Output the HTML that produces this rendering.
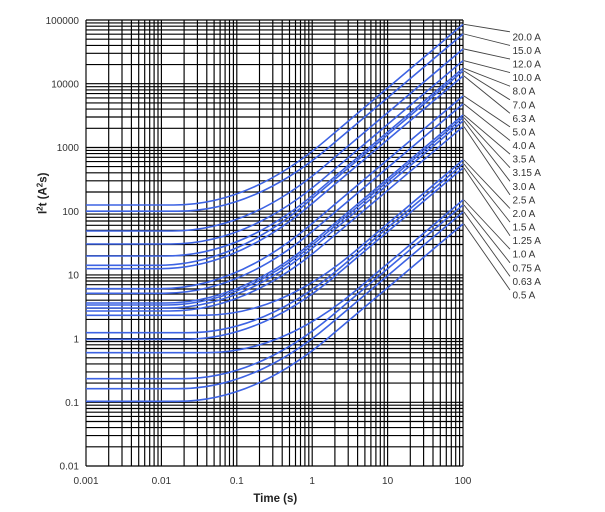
<!DOCTYPE html>
<html><head><meta charset="utf-8"><style>html,body{margin:0;padding:0;background:#fff}svg{display:block}</style></head>
<body>
<svg width="605" height="512" viewBox="0 0 605 512" xmlns="http://www.w3.org/2000/svg" font-family="Liberation Sans, Arial, sans-serif">
<rect width="605" height="512" fill="#fff"/>
<path fill="none" stroke="#000" stroke-width="1.15" d="
M86 20V466M108.7 20V466M122 20V466M131.4 20V466M138.7 20V466M144.7 20V466M149.7 20V466M154.1 20V466M158 20V466
M161.4 20V466M184.1 20V466M197.4 20V466M206.8 20V466M214.1 20V466M220.1 20V466M225.1 20V466M229.5 20V466M233.4 20V466
M236.8 20V466M259.5 20V466M272.8 20V466M282.2 20V466M289.5 20V466M295.5 20V466M300.5 20V466M304.9 20V466M308.8 20V466
M312.2 20V466M334.9 20V466M348.2 20V466M357.6 20V466M364.9 20V466M370.9 20V466M375.9 20V466M380.3 20V466M384.2 20V466
M387.6 20V466M410.3 20V466M423.6 20V466M433 20V466M440.3 20V466M446.3 20V466M451.3 20V466M455.7 20V466M459.6 20V466
M463 20V466
M86 466H463M86 446.8H463M86 435.6H463M86 427.6H463M86 421.5H463M86 416.4H463M86 412.2H463M86 408.5H463M86 405.2H463
M86 402.3H463M86 383.1H463M86 371.9H463M86 363.9H463M86 357.8H463M86 352.7H463M86 348.5H463M86 344.8H463M86 341.5H463
M86 338.6H463M86 319.4H463M86 308.2H463M86 300.2H463M86 294.1H463M86 289H463M86 284.7H463M86 281H463M86 277.8H463
M86 274.9H463M86 255.7H463M86 244.5H463M86 236.5H463M86 230.3H463M86 225.3H463M86 221H463M86 217.3H463M86 214.1H463
M86 211.2H463M86 192H463M86 180.8H463M86 172.8H463M86 166.6H463M86 161.6H463M86 157.3H463M86 153.6H463M86 150.4H463
M86 147.5H463M86 128.3H463M86 117H463M86 109.1H463M86 102.9H463M86 97.9H463M86 93.6H463M86 89.9H463M86 86.7H463
M86 83.7H463M86 64.6H463M86 53.3H463M86 45.4H463M86 39.2H463M86 34.2H463M86 29.9H463M86 26.2H463M86 22.9H463
M86 20H463"/>
<g fill="none" stroke="#3d63e3" stroke-width="1.6">
<path d="M86 205 L173.7 205 Q249.1 205 324.5 141.3 L463 24.3"/>
<path d="M86 211.2 L177.9 211.2 Q253.3 211.2 328.7 147.5 L463 34"/>
<path d="M86 231 L172.2 231 Q247.6 231 323 167.3 L463 49"/>
<path d="M86 244 L170.7 244 Q246.1 244 321.5 180.3 L463 60.7"/>
<path d="M86 256 L165.5 256 Q240.9 256 316.3 192.3 L463 68.3"/>
<path d="M86 265.3 L157.7 265.3 Q233.1 265.3 308.5 201.6 L463 71"/>
<path d="M86 268.7 L159.6 268.7 Q235 268.7 310.4 205 L463 76"/>
<path d="M86 288.7 L159.6 288.7 Q235 288.7 310.4 225 L463 96"/>
<path d="M86 293.3 L163.6 293.3 Q239 293.3 314.4 229.6 L463 104"/>
<path d="M86 303 L165.1 303 Q240.5 303 315.9 239.3 L463 115"/>
<path d="M86 305 L165.9 305 Q241.3 305 316.7 241.3 L463 117.7"/>
<path d="M86 308 L166.3 308 Q241.7 308 317.1 244.3 L463 121"/>
<path d="M86 311 L169.5 311 Q244.9 311 320.3 247.3 L463 126.7"/>
<path d="M86 315.3 L203.8 315.3 Q279.2 315.3 354.6 251.6 L463 160"/>
<path d="M86 332.7 L188 332.7 Q263.4 332.7 338.8 269 L463 164"/>
<path d="M86 339.3 L184.9 339.3 Q260.3 339.3 335.7 275.6 L463 168"/>
<path d="M86 352.7 L206.9 352.7 Q282.3 352.7 357.7 289 L463 200"/>
<path d="M86 378.7 L182 378.7 Q257.4 378.7 332.8 315 L463 205"/>
<path d="M86 388.7 L178.5 388.7 Q253.9 388.7 329.3 325 L463 212"/>
<path d="M86 401.3 L177.8 401.3 Q253.2 401.3 328.6 337.6 L463 224"/>
</g>
<g stroke="#444" stroke-width="0.9" fill="none">
<path d="M464 24.3L510 31.8M464 34L510 45.4M464 49L510 59M464 60.7L510 72.6M464 68.3L510 86.2M464 71L510 99.8M464 76L510 113.3M464 96L510 126.9M464 104L510 140.5M464 115L510 154.1M464 117.7L510 167.7M464 121L510 181.3M464 126.7L510 194.9M464 160L510 208.5M464 164L510 222.1M464 168L510 235.7M464 200L510 249.2M464 205L510 262.8M464 212L510 276.4M464 224L510 290"/>
</g>
<g font-size="10" fill="#333" text-anchor="end">
<text x="79" y="23.8">100000</text>
<text x="79" y="87.5">10000</text>
<text x="79" y="151.2">1000</text>
<text x="79" y="214.9">100</text>
<text x="79" y="278.6">10</text>
<text x="79" y="342.3">1</text>
<text x="79" y="406">0.1</text>
<text x="79" y="469.7">0.01</text>
</g>
<g font-size="10" fill="#333" text-anchor="middle">
<text x="86" y="484">0.001</text>
<text x="161.4" y="484">0.01</text>
<text x="236.8" y="484">0.1</text>
<text x="312.2" y="484">1</text>
<text x="387.6" y="484">10</text>
<text x="463" y="484">100</text>
</g>
<text x="275.3" y="502" font-size="11.5" font-weight="bold" fill="#222" text-anchor="middle">Time (s)</text>
<text transform="translate(46.5,193.3) rotate(-90)" font-size="11.5" font-weight="bold" fill="#222" text-anchor="middle">I<tspan font-size="8" dy="-4">2</tspan><tspan dy="4">t (A</tspan><tspan font-size="8" dy="-4">2</tspan><tspan dy="4">s)</tspan></text>
<g font-size="10" fill="#333">
<text x="512.5" y="40.3">20.0 A</text>
<text x="512.5" y="53.9">15.0 A</text>
<text x="512.5" y="67.5">12.0 A</text>
<text x="512.5" y="81.1">10.0 A</text>
<text x="512.5" y="94.7">8.0 A</text>
<text x="512.5" y="108.3">7.0 A</text>
<text x="512.5" y="121.8">6.3 A</text>
<text x="512.5" y="135.4">5.0 A</text>
<text x="512.5" y="149">4.0 A</text>
<text x="512.5" y="162.6">3.5 A</text>
<text x="512.5" y="176.2">3.15 A</text>
<text x="512.5" y="189.8">3.0 A</text>
<text x="512.5" y="203.4">2.5 A</text>
<text x="512.5" y="217">2.0 A</text>
<text x="512.5" y="230.6">1.5 A</text>
<text x="512.5" y="244.2">1.25 A</text>
<text x="512.5" y="257.7">1.0 A</text>
<text x="512.5" y="271.3">0.75 A</text>
<text x="512.5" y="284.9">0.63 A</text>
<text x="512.5" y="298.5">0.5 A</text>
</g>
</svg>
</body></html>
